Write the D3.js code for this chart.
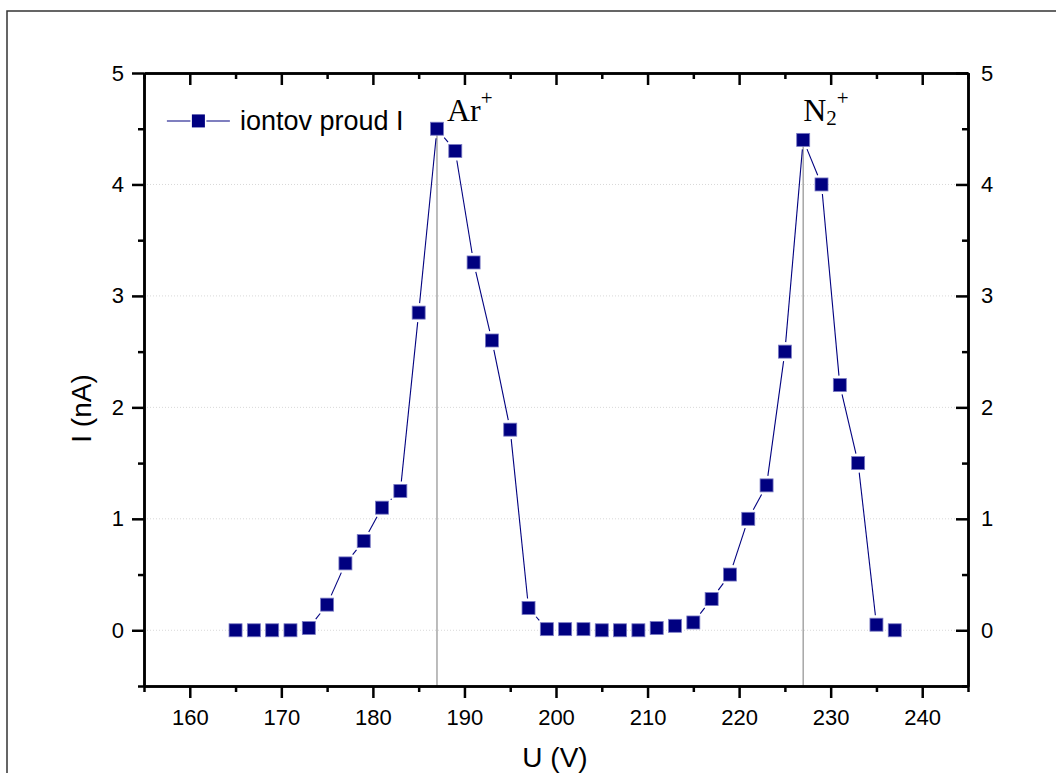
<!DOCTYPE html>
<html>
<head>
<meta charset="utf-8">
<script src="https://cdn.jsdelivr.net/npm/d3@7"></script>
<style>
  body { margin: 0; background: #fff; }
  svg text { font-family: Arial, "Liberation Sans", sans-serif; }
</style>
</head>
<body>
<div id="chart"></div>
<script>
const width = 1056, height = 773;
const margin = { top: 73, right: 88, bottom: 87, left: 144 };

// data
const voltage = [165, 167, 169, 171, 173, 175, 177, 179, 181, 183, 185, 187, 189, 191, 193, 195, 197, 199,
  201, 203, 205, 207, 209, 211, 213, 215, 217, 219, 221, 223, 225, 227, 229, 231, 233, 235, 237];
const current = [0, 0, 0, 0, 0.02, 0.23, 0.6, 0.8, 1.1, 1.25, 2.85, 4.5, 4.3, 3.3, 2.6, 1.8, 0.2, 0.01,
  0.01, 0.01, 0, 0, 0, 0.02, 0.04, 0.07, 0.28, 0.5, 1.0, 1.3, 2.5, 4.4, 4.0, 2.2, 1.5, 0.05, 0];
const xTicks = [160, 170, 180, 190, 200, 210, 220, 230, 240];
const xMinor = [155, 165, 175, 185, 195, 205, 215, 225, 235, 245];
const yTicks = [0, 1, 2, 3, 4, 5];
const yMinor = [-0.5, 0.5, 1.5, 2.5, 3.5, 4.5];
const peaks = [{ u: 187, i: 4.5 }, { u: 227, i: 4.4 }];
const legendLabel = "iontov proud I";

const iw = width - margin.left - margin.right;
const ih = height - margin.top - margin.bottom;

const svg = d3.select("#chart").append("svg")
  .attr("width", width)
  .attr("height", height);

// outer frame
svg.append("rect")
  .attr("x", 7).attr("y", 11)
  .attr("width", 1070).attr("height", 790)
  .attr("fill", "none")
  .attr("stroke", "#333")
  .attr("stroke-width", 1.5);

const chart = svg.append("g")
  .attr("transform", `translate(${margin.left},${margin.top})`);

const x = d3.scaleLinear().domain([155, 245]).range([0, iw]);
const y = d3.scaleLinear().domain([-0.5, 5]).range([ih, 0]);

// GRID
chart.append("g")
  .selectAll("line")
  .data(yTicks.slice(0, -1))
  .join("line")
  .attr("x1", 0).attr("x2", iw)
  .attr("y1", d => y(d)).attr("y2", d => y(d))
  .attr("stroke", "#d8d8d8")
  .attr("stroke-dasharray", "1,2");

// peak markers
chart.append("g")
  .selectAll("line")
  .data(peaks)
  .join("line")
  .attr("x1", d => x(d.u)).attr("x2", d => x(d.u))
  .attr("y1", d => y(d.i)).attr("y2", ih)
  .attr("stroke", "#a6a6a6")
  .attr("stroke-width", 1.5);

// AXES
function styleAxis(g) {
  g.select(".domain").attr("stroke", "#000").attr("stroke-width", 2.5);
  g.selectAll(".tick line").attr("stroke", "#000").attr("stroke-width", 2.5);
  g.selectAll("text").style("font-size", "22px").attr("fill", "#000");
}

chart.append("g")
  .attr("transform", `translate(0,${ih})`)
  .call(d3.axisBottom(x).tickValues(xTicks).tickSize(12).tickPadding(11).tickFormat(d3.format("d")).tickSizeOuter(0))
  .call(styleAxis);
chart.append("g")
  .attr("transform", `translate(0,${ih})`)
  .call(d3.axisBottom(x).tickValues(xMinor).tickSize(6).tickFormat("").tickSizeOuter(0))
  .call(styleAxis);

chart.append("g")
  .call(d3.axisBottom(x).tickValues(xTicks).tickSize(12).tickFormat("").tickSizeOuter(0))
  .call(styleAxis);
chart.append("g")
  .call(d3.axisBottom(x).tickValues(xMinor).tickSize(6).tickFormat("").tickSizeOuter(0))
  .call(styleAxis);

chart.append("g")
  .call(d3.axisLeft(y).tickValues(yTicks).tickSize(12).tickPadding(8).tickFormat(d3.format("d")).tickSizeOuter(0))
  .call(styleAxis);
chart.append("g")
  .call(d3.axisLeft(y).tickValues(yMinor).tickSize(6).tickFormat("").tickSizeOuter(0))
  .call(styleAxis);

chart.append("g")
  .attr("transform", `translate(${iw},0)`)
  .call(d3.axisLeft(y).tickValues(yTicks).tickSize(12).tickFormat("").tickSizeOuter(0))
  .call(styleAxis);
chart.append("g")
  .attr("transform", `translate(${iw},0)`)
  .call(d3.axisLeft(y).tickValues(yMinor).tickSize(6).tickFormat("").tickSizeOuter(0))
  .call(styleAxis);
chart.append("g")
  .attr("transform", `translate(${iw},0)`)
  .call(d3.axisRight(y).tickValues(yTicks).tickSize(0).tickPadding(13).tickFormat(d3.format("d")))
  .call(g => {
    g.select(".domain").remove();
    g.selectAll("text").style("font-size", "22px").attr("fill", "#000");
  });

// axis titles
chart.append("text")
  .attr("x", iw / 2 - 1)
  .attr("y", ih + 81)
  .attr("text-anchor", "middle")
  .style("font-size", "28px")
  .text("U (V)");

chart.append("text")
  .attr("transform", `translate(${-53},${ih / 2 + 29}) rotate(-90)`)
  .attr("text-anchor", "middle")
  .style("font-size", "28px")
  .text("I (nA)");

// LINE with gaps around markers
const pts = voltage.map((u, k) => [x(u), y(current[k])]);
const half = 6.5, gap = 3;
const segs = [];
for (let k = 0; k < pts.length - 1; k++) {
  const [x0, y0] = pts[k], [x1, y1] = pts[k + 1];
  const len = Math.hypot(x1 - x0, y1 - y0);
  const ux = (x1 - x0) / len, uy = (y1 - y0) / len;
  const cut = half / Math.max(Math.abs(ux), Math.abs(uy)) + gap;
  if (len - 2 * cut > 0.5) {
    segs.push([x0 + ux * cut, y0 + uy * cut, x1 - ux * cut, y1 - uy * cut]);
  }
}
chart.append("g")
  .selectAll("line")
  .data(segs)
  .join("line")
  .attr("x1", d => d[0]).attr("y1", d => d[1])
  .attr("x2", d => d[2]).attr("y2", d => d[3])
  .attr("stroke", "#000080")
  .attr("stroke-width", 1.1);

chart.append("g")
  .selectAll("rect")
  .data(voltage)
  .join("rect")
  .attr("x", (d, k) => x(d) - half)
  .attr("y", (d, k) => y(current[k]) - half)
  .attr("width", half * 2).attr("height", half * 2)
  .attr("fill", "#000080")
  .attr("stroke", "#7a7ac4")
  .attr("stroke-width", 0.8);

// peak labels
const serif = "'Liberation Serif', 'Times New Roman', serif";

const ar = chart.append("text")
  .attr("x", x(peaks[0].u) + 10)
  .attr("y", y(peaks[0].i) - 8)
  .style("font-family", serif)
  .style("font-size", "32px");
ar.append("tspan").text("Ar");
ar.append("tspan").style("font-size", "21px").attr("dy", -16).text("+");

const n2 = chart.append("text")
  .attr("x", x(peaks[1].u))
  .attr("y", y(peaks[1].i) - 19)
  .style("font-family", serif)
  .style("font-size", "32px");
n2.append("tspan").text("N");
n2.append("tspan").style("font-size", "21px").attr("dy", 4).text("2");
n2.append("tspan").style("font-size", "21px").attr("dy", -20).text("+");

// LEGEND
const legend = chart.append("g")
  .attr("transform", `translate(${x(157.5)},${y(4.57)})`);
legend.append("line")
  .attr("x1", 0).attr("x2", 63)
  .attr("stroke", "#000080")
  .attr("stroke-width", 1.1);
legend.append("rect")
  .attr("x", 31.5 - half).attr("y", -half)
  .attr("width", half * 2).attr("height", half * 2)
  .attr("fill", "#000080")
  .attr("stroke", "#fff")
  .attr("stroke-width", 3);
legend.append("rect")
  .attr("x", 31.5 - half).attr("y", -half)
  .attr("width", half * 2).attr("height", half * 2)
  .attr("fill", "#000080");
legend.append("text")
  .attr("x", 73)
  .attr("y", 9)
  .style("font-size", "27px")
  .text(legendLabel);
</script>
</body>
</html>
